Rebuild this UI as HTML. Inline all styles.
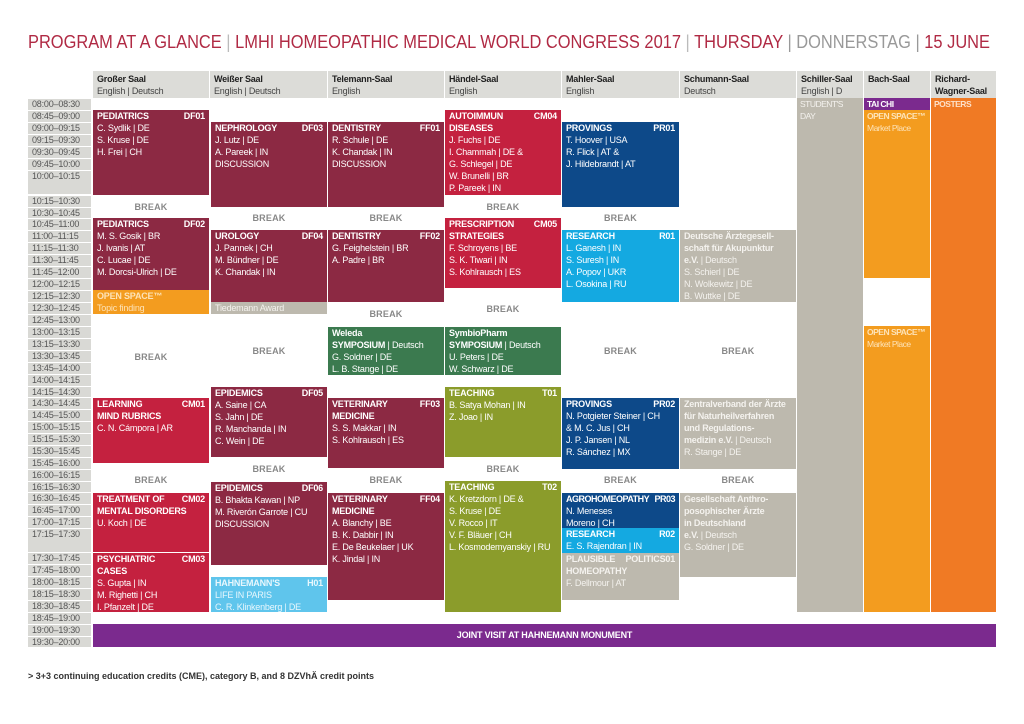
<!DOCTYPE html>
<html><head><meta charset="utf-8">
<style>
*{margin:0;padding:0;box-sizing:border-box}
body{width:1024px;height:724px;background:#fff;position:relative;overflow:hidden;font-family:"Liberation Sans",sans-serif;}
.a{position:absolute}
.t{position:absolute;left:28px;width:63px;background:#d9d9d5;color:#555;font-size:9px;padding-left:4px;line-height:11px;letter-spacing:-0.2px}
.h{position:absolute;top:71px;height:27px;background:#dcdcd8;font-size:9px;color:#444;padding:2px 4px;line-height:12px;letter-spacing:-0.2px}
.h b{color:#222}
.b{position:absolute;color:#fff;font-size:9px;line-height:12px;padding:0 4px;letter-spacing:-0.2px;overflow:hidden}
.b .r{display:flex;justify-content:space-between;font-weight:bold}
.b b{font-weight:bold}
.n{font-size:8.5px;letter-spacing:-0.5px;padding:0 3px;white-space:nowrap}
.brk{position:absolute;color:#888;font-weight:bold;font-size:9px;text-align:center;letter-spacing:0.2px}
.dw{background:#8c2943}.cm{background:#c4213f}.nv{background:#0d4989}.cy{background:#14a9e1}.lb{background:#5fc5ec}
.gr{background:#3b7a4f}.ol{background:#8b9c2b}.gy{background:#bdb9ae}.or{background:#f39c1f}.or2{background:#f07a24}.pu{background:#7b2a8e}
.gy{color:#f4f2ee}
</style></head><body>
<svg class="a" style="left:0;top:0" width="1024" height="60"><text x="28" y="48" font-family="Liberation Sans, sans-serif" font-size="18" textLength="962" lengthAdjust="spacingAndGlyphs"><tspan fill="#b02a44">PROGRAM AT A GLANCE </tspan><tspan fill="#bbb">| </tspan><tspan fill="#b02a44">LMHI HOMEOPATHIC MEDICAL WORLD CONGRESS 2017 </tspan><tspan fill="#bbb">| </tspan><tspan fill="#b02a44">THURSDAY </tspan><tspan fill="#999">| DONNERSTAG | </tspan><tspan fill="#b02a44">15 JUNE</tspan></text></svg>

<div class="h" style="left:93px;width:116px"><b>Großer Saal</b><br>English | Deutsch</div>
<div class="h" style="left:210px;width:117px"><b>Weißer Saal</b><br>English | Deutsch</div>
<div class="h" style="left:328px;width:116px"><b>Telemann-Saal</b><br>English</div>
<div class="h" style="left:445px;width:116px"><b>Händel-Saal</b><br>English</div>
<div class="h" style="left:562px;width:117px"><b>Mahler-Saal</b><br>English</div>
<div class="h" style="left:680px;width:116px"><b>Schumann-Saal</b><br>Deutsch</div>
<div class="h" style="left:797px;width:66px"><b>Schiller-Saal</b><br>English | D</div>
<div class="h" style="left:864px;width:66px"><b>Bach-Saal</b></div>
<div class="h" style="left:931px;width:65px"><b>Richard-<br>Wagner-Saal</b></div>

<div class="t" style="top:99px;height:11px">08:00–08:30</div>
<div class="t" style="top:111px;height:11px">08:45–09:00</div>
<div class="t" style="top:123px;height:11px">09:00–09:15</div>
<div class="t" style="top:135px;height:11px">09:15–09:30</div>
<div class="t" style="top:147px;height:11px">09:30–09:45</div>
<div class="t" style="top:159px;height:11px">09:45–10:00</div>
<div class="t" style="top:171px;height:23px">10:00–10:15</div>
<div class="t" style="top:196px;height:11px">10:15–10:30</div>
<div class="t" style="top:208px;height:10px">10:30–10:45</div>
<div class="t" style="top:219px;height:11px">10:45–11:00</div>
<div class="t" style="top:231px;height:11px">11:00–11:15</div>
<div class="t" style="top:243px;height:11px">11:15–11:30</div>
<div class="t" style="top:255px;height:11px">11:30–11:45</div>
<div class="t" style="top:267px;height:11px">11:45–12:00</div>
<div class="t" style="top:279px;height:11px">12:00–12:15</div>
<div class="t" style="top:291px;height:11px">12:15–12:30</div>
<div class="t" style="top:303px;height:11px">12:30–12:45</div>
<div class="t" style="top:315px;height:11px">12:45–13:00</div>
<div class="t" style="top:327px;height:11px">13:00–13:15</div>
<div class="t" style="top:339px;height:11px">13:15–13:30</div>
<div class="t" style="top:351px;height:11px">13:30–13:45</div>
<div class="t" style="top:363px;height:11px">13:45–14:00</div>
<div class="t" style="top:375px;height:11px">14:00–14:15</div>
<div class="t" style="top:387px;height:10px">14:15–14:30</div>
<div class="t" style="top:398px;height:11px">14:30–14:45</div>
<div class="t" style="top:410px;height:11px">14:45–15:00</div>
<div class="t" style="top:422px;height:11px">15:00–15:15</div>
<div class="t" style="top:434px;height:11px">15:15–15:30</div>
<div class="t" style="top:446px;height:11px">15:30–15:45</div>
<div class="t" style="top:458px;height:11px">15:45–16:00</div>
<div class="t" style="top:470px;height:11px">16:00–16:15</div>
<div class="t" style="top:482px;height:10px">16:15–16:30</div>
<div class="t" style="top:493px;height:11px">16:30–16:45</div>
<div class="t" style="top:505px;height:11px">16:45–17:00</div>
<div class="t" style="top:517px;height:11px">17:00–17:15</div>
<div class="t" style="top:529px;height:23px">17:15–17:30</div>
<div class="t" style="top:553px;height:11px">17:30–17:45</div>
<div class="t" style="top:565px;height:11px">17:45–18:00</div>
<div class="t" style="top:577px;height:11px">18:00–18:15</div>
<div class="t" style="top:589px;height:11px">18:15–18:30</div>
<div class="t" style="top:601px;height:11px">18:30–18:45</div>
<div class="t" style="top:613px;height:11px">18:45–19:00</div>
<div class="t" style="top:625px;height:11px">19:00–19:30</div>
<div class="t" style="top:637px;height:10px">19:30–20:00</div>

<!-- Großer Saal -->
<div class="b dw" style="left:93px;top:110px;width:116px;height:85px"><div class="r"><span>PEDIATRICS</span><span>DF01</span></div>C. Sydlik | DE<br>S. Kruse | DE<br>H. Frei | CH</div>
<div class="brk" style="left:93px;top:202px;width:116px">BREAK</div>
<div class="b dw" style="left:93px;top:218px;width:116px;height:72px"><div class="r"><span>PEDIATRICS</span><span>DF02</span></div>M. S. Gosik | BR<br>J. Ivanis | AT<br>C. Lucae | DE<br>M. Dorcsi-Ulrich | DE</div>
<div class="b or" style="left:93px;top:290px;width:116px;height:24px;color:#fde3b8"><b>OPEN SPACE™</b><br>Topic finding</div>
<div class="brk" style="left:93px;top:352px;width:116px">BREAK</div>
<div class="b cm" style="left:93px;top:398px;width:116px;height:65px"><div class="r"><span>LEARNING</span><span>CM01</span></div><b>MIND RUBRICS</b><br>C. N. Cámpora | AR</div>
<div class="brk" style="left:93px;top:475px;width:116px">BREAK</div>
<div class="b cm" style="left:93px;top:493px;width:116px;height:59px"><div class="r"><span>TREATMENT OF</span><span>CM02</span></div><b>MENTAL DISORDERS</b><br>U. Koch | DE</div>
<div class="b cm" style="left:93px;top:553px;width:116px;height:59px"><div class="r"><span>PSYCHIATRIC</span><span>CM03</span></div><b>CASES</b><br>S. Gupta | IN<br>M. Righetti | CH<br>I. Pfanzelt | DE</div>

<!-- Weißer Saal -->
<div class="b dw" style="left:211px;top:122px;width:116px;height:85px"><div class="r"><span>NEPHROLOGY</span><span>DF03</span></div>J. Lutz | DE<br>A. Pareek | IN<br>DISCUSSION</div>
<div class="brk" style="left:211px;top:213px;width:116px">BREAK</div>
<div class="b dw" style="left:211px;top:230px;width:116px;height:72px"><div class="r"><span>UROLOGY</span><span>DF04</span></div>J. Pannek | CH<br>M. Bündner | DE<br>K. Chandak | IN</div>
<div class="b gy" style="left:211px;top:302px;width:116px;height:12px">Tiedemann Award</div>
<div class="brk" style="left:211px;top:346px;width:116px">BREAK</div>
<div class="b dw" style="left:211px;top:387px;width:116px;height:70px"><div class="r"><span>EPIDEMICS</span><span>DF05</span></div>A. Saine | CA<br>S. Jahn | DE<br>R. Manchanda | IN<br>C. Wein | DE</div>
<div class="brk" style="left:211px;top:464px;width:116px">BREAK</div>
<div class="b dw" style="left:211px;top:482px;width:116px;height:83px"><div class="r"><span>EPIDEMICS</span><span>DF06</span></div>B. Bhakta Kawan | NP<br>M. Riverón Garrote | CU<br>DISCUSSION</div>
<div class="b lb" style="left:211px;top:577px;width:116px;height:35px;color:#e8f7fd"><div class="r"><span>HAHNEMANN'S</span><span>H01</span></div>LIFE IN PARIS<br>C. R. Klinkenberg | DE</div>

<!-- Telemann -->
<div class="b dw" style="left:328px;top:122px;width:116px;height:85px"><div class="r"><span>DENTISTRY</span><span>FF01</span></div>R. Schule | DE<br>K. Chandak | IN<br>DISCUSSION</div>
<div class="brk" style="left:328px;top:213px;width:116px">BREAK</div>
<div class="b dw" style="left:328px;top:230px;width:116px;height:72px"><div class="r"><span>DENTISTRY</span><span>FF02</span></div>G. Feighelstein | BR<br>A. Padre | BR</div>
<div class="brk" style="left:328px;top:309px;width:116px">BREAK</div>
<div class="b gr" style="left:328px;top:327px;width:116px;height:48px"><b>Weleda</b><br><b>SYMPOSIUM</b> | Deutsch<br>G. Soldner | DE<br>L. B. Stange | DE</div>
<div class="b dw" style="left:328px;top:398px;width:116px;height:70px"><div class="r"><span>VETERINARY</span><span>FF03</span></div><b>MEDICINE</b><br>S. S. Makkar | IN<br>S. Kohlrausch | ES</div>
<div class="brk" style="left:328px;top:475px;width:116px">BREAK</div>
<div class="b dw" style="left:328px;top:493px;width:116px;height:107px"><div class="r"><span>VETERINARY</span><span>FF04</span></div><b>MEDICINE</b><br>A. Blanchy | BE<br>B. K. Dabbir | IN<br>E. De Beukelaer | UK<br>K. Jindal | IN</div>

<!-- Händel -->
<div class="b cm" style="left:445px;top:110px;width:116px;height:85px"><div class="r"><span>AUTOIMMUN</span><span>CM04</span></div><b>DISEASES</b><br>J. Fuchs | DE<br>I. Chammah | DE &amp;<br>G. Schlegel | DE<br>W. Brunelli | BR<br>P. Pareek | IN</div>
<div class="brk" style="left:445px;top:202px;width:116px">BREAK</div>
<div class="b cm" style="left:445px;top:218px;width:116px;height:70px"><div class="r"><span>PRESCRIPTION</span><span>CM05</span></div><b>STRATEGIES</b><br>F. Schroyens | BE<br>S. K. Tiwari | IN<br>S. Kohlrausch | ES</div>
<div class="brk" style="left:445px;top:304px;width:116px">BREAK</div>
<div class="b gr" style="left:445px;top:327px;width:116px;height:48px"><b>SymbioPharm</b><br><b>SYMPOSIUM</b> | Deutsch<br>U. Peters | DE<br>W. Schwarz | DE</div>
<div class="b ol" style="left:445px;top:387px;width:116px;height:70px"><div class="r"><span>TEACHING</span><span>T01</span></div>B. Satya Mohan | IN<br>Z. Joao | IN</div>
<div class="brk" style="left:445px;top:464px;width:116px">BREAK</div>
<div class="b ol" style="left:445px;top:481px;width:116px;height:131px"><div class="r"><span>TEACHING</span><span>T02</span></div>K. Kretzdorn | DE &amp;<br>S. Kruse | DE<br>V. Rocco | IT<br>V. F. Bläuer | CH<br>L. Kosmodemyanskiy | RU</div>

<!-- Mahler -->
<div class="b nv" style="left:562px;top:122px;width:117px;height:85px"><div class="r"><span>PROVINGS</span><span>PR01</span></div>T. Hoover | USA<br>R. Flick | AT &amp;<br>J. Hildebrandt | AT</div>
<div class="brk" style="left:562px;top:213px;width:117px">BREAK</div>
<div class="b cy" style="left:562px;top:230px;width:117px;height:72px"><div class="r"><span>RESEARCH</span><span>R01</span></div>L. Ganesh | IN<br>S. Suresh | IN<br>A. Popov | UKR<br>L. Osokina | RU</div>
<div class="brk" style="left:562px;top:346px;width:117px">BREAK</div>
<div class="b nv" style="left:562px;top:398px;width:117px;height:71px"><div class="r"><span>PROVINGS</span><span>PR02</span></div>N. Potgieter Steiner | CH<br>&amp; M. C. Jus | CH<br>J. P. Jansen | NL<br>R. Sánchez | MX</div>
<div class="brk" style="left:562px;top:475px;width:117px">BREAK</div>
<div class="b nv" style="left:562px;top:493px;width:117px;height:35px"><div class="r" style="letter-spacing:-0.5px"><span>AGROHOMEOPATHY</span><span>PR03</span></div>N. Meneses<br>Moreno | CH</div>
<div class="b cy" style="left:562px;top:528px;width:117px;height:25px"><div class="r"><span>RESEARCH</span><span>R02</span></div>E. S. Rajendran | IN</div>
<div class="b gy" style="left:562px;top:553px;width:117px;height:47px"><div class="r"><span>PLAUSIBLE</span><span>POLITICS01</span></div><b>HOMEOPATHY</b><br>F. Dellmour | AT</div>

<!-- Schumann -->
<div class="b gy" style="left:680px;top:230px;width:116px;height:72px"><b>Deutsche Ärztegesell-<br>schaft für Akupunktur<br>e.V.</b> | Deutsch<br>S. Schierl | DE<br>N. Wolkewitz | DE<br>B. Wuttke | DE</div>
<div class="brk" style="left:680px;top:346px;width:116px">BREAK</div>
<div class="b gy" style="left:680px;top:398px;width:116px;height:71px"><b>Zentralverband der Ärzte<br>für Naturheilverfahren<br>und Regulations-<br>medizin e.V.</b> | Deutsch<br>R. Stange | DE</div>
<div class="brk" style="left:680px;top:475px;width:116px">BREAK</div>
<div class="b gy" style="left:680px;top:493px;width:116px;height:84px"><b>Gesellschaft Anthro-<br>posophischer Ärzte<br>in Deutschland<br>e.V.</b> | Deutsch<br>G. Soldner | DE</div>

<!-- Schiller / Bach / Wagner -->
<div class="b gy n" style="left:797px;top:98px;width:66px;height:514px">STUDENT'S<br>DAY</div>
<div class="b pu n" style="left:864px;top:98px;width:66px;height:12px"><b>TAI CHI</b></div>
<div class="b or n" style="left:864px;top:110px;width:66px;height:168px;color:#fde3b8"><b>OPEN SPACE™</b><br>Market Place</div>
<div class="b or n" style="left:864px;top:326px;width:66px;height:286px;color:#fde3b8"><b>OPEN SPACE™</b><br>Market Place</div>
<div class="b or2 n" style="left:931px;top:98px;width:65px;height:514px;color:#fde0c8"><b>POSTERS</b></div>

<div class="b pu" style="left:93px;top:624px;width:903px;height:23px;line-height:23px;text-align:center;font-weight:bold">JOINT VISIT AT HAHNEMANN MONUMENT</div>

<div class="a" style="left:28px;top:671px;font-size:9px;font-weight:bold;color:#333">&gt; 3+3 continuing education credits (CME), category B, and 8 DZVhÄ credit points</div>
</body></html>
